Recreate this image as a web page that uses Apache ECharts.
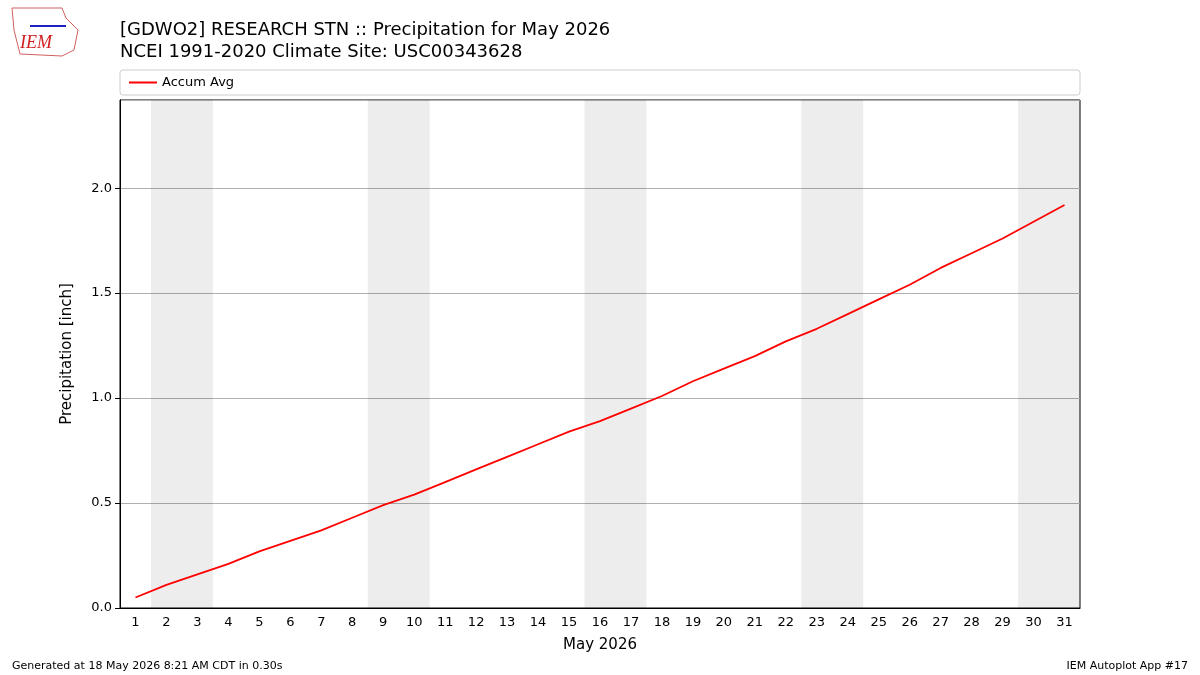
<!DOCTYPE html>
<html><head><meta charset="utf-8">
<script src="https://cdn.jsdelivr.net/npm/echarts@6/dist/echarts.min.js"></script>
<style>body{margin:0}#c{width:1200px;height:675px}</style></head>
<body><div id="c"></div>
<script>
const days = Array.from({length:31},(_,i)=>String(i+1));
const accumAvg = [0.05,0.11,0.16,0.21,0.27,0.32,0.37,0.43,0.49,0.54,0.60,0.66,0.72,0.78,0.84,0.89,0.95,1.01,1.08,1.14,1.20,1.27,1.33,1.40,1.47,1.54,1.62,1.69,1.76,1.84,1.92];
const weekends = [[2,3],[9,10],[16,17],[23,24],[30,31]];
const F = 'DejaVu Sans';
const chart = echarts.init(document.getElementById('c'));
chart.setOption({
  animation:false,
  textStyle:{fontFamily:F},
  title:[
    {text:'[GDWO2] RESEARCH STN :: Precipitation for May 2026\nNCEI 1991-2020 Climate Site: USC00343628',left:115,top:14,
     textStyle:{fontFamily:F,fontSize:18,fontWeight:'normal',color:'#000',lineHeight:22}},
    {text:'Generated at 18 May 2026 8:21 AM CDT in 0.30s',left:7,top:656,textStyle:{fontFamily:F,fontSize:11,fontWeight:'normal',color:'#000'}},
    {text:'IEM Autoplot App #17',right:7,top:656,textStyle:{fontFamily:F,fontSize:11,fontWeight:'normal',color:'#000'}}
  ],
  graphic:[
    {type:'rect',shape:{x:120,y:70,width:960,height:25,r:3},style:{fill:'#fff',stroke:'#ccc',lineWidth:1}},
    {type:'text',left:20,top:34,style:{text:'IEM',fill:'#d02020',font:'italic 18px Liberation Serif'}},
    {type:'polyline',shape:{points:[[12,8],[62,8],[66,18],[78,30],[74,50],[62,56],[20,54],[14,30],[12,8]]},style:{fill:'none',stroke:'#d06060',lineWidth:1}},
    {type:'line',shape:{x1:30,y1:26,x2:66,y2:26},style:{stroke:'#2020c0',lineWidth:2}}
  ],
  legend:{left:124,top:71,itemWidth:28,itemHeight:2,icon:'rect',textStyle:{fontFamily:F,fontSize:13,color:'#000'},data:['Accum Avg']},
  grid:{left:120,right:120,top:100,bottom:67,show:true,borderColor:'#000',borderWidth:1,backgroundColor:'transparent'},
  xAxis:[
    {type:'value',min:0.5,max:31.5,show:false},
    {type:'category',data:days,boundaryGap:true,position:'bottom',name:'May 2026',nameLocation:'middle',nameGap:30,
     nameTextStyle:{fontFamily:F,fontSize:15,color:'#000'},
     axisLine:{lineStyle:{color:'#000'}},axisTick:{alignWithLabel:true,lineStyle:{color:'#000'}},
     axisLabel:{fontFamily:F,fontSize:13,color:'#000'},splitLine:{show:false}}
  ],
  yAxis:{type:'value',min:0,max:2.42,interval:0.5,name:'Precipitation [inch]',nameLocation:'middle',nameGap:45,
    nameTextStyle:{fontFamily:F,fontSize:15,color:'#000'},
    axisLine:{show:true,lineStyle:{color:'#000'}},axisTick:{show:true,lineStyle:{color:'#000'}},
    axisLabel:{fontFamily:F,fontSize:13,color:'#000',formatter:v=>v.toFixed(1),showMaxLabel:false},
    splitLine:{lineStyle:{color:'#b0b0b0'}}},
  series:[
    {type:'line',name:'Accum Avg',xAxisIndex:0,data:accumAvg.map((v,i)=>[i+1,v]),symbol:'none',
     lineStyle:{color:'#ff0000',width:1.8},itemStyle:{color:'#ff0000'},
     markArea:{silent:true,itemStyle:{color:'rgba(0,0,0,0.07)'},data:weekends.map(w=>[{xAxis:w[0]-0.5},{xAxis:w[1]+0.5}])}}
  ]
});
</script></body></html>
